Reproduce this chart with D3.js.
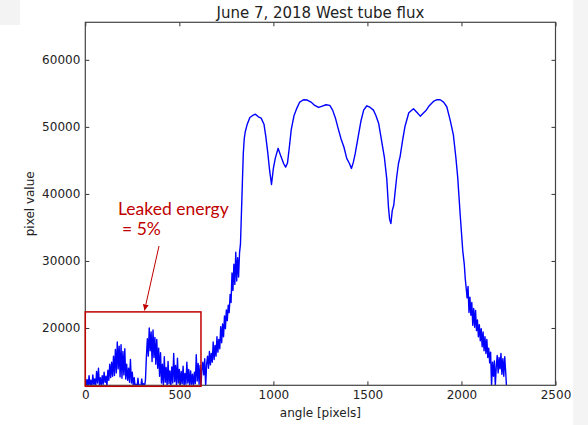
<!DOCTYPE html>
<html>
<head>
<meta charset="utf-8">
<script src="https://cdn.jsdelivr.net/npm/d3@7"></script>
<style>
  body { margin: 0; background: #fff; }
  svg { display: block; }
</style>
</head>
<body>
<script>
// angle [pixels] along the tube
// noisy parts every 5 px, smooth middle part a bit coarser
var angle = [
  0, 5, 10, 15, 20, 25, 30, 35, 40, 45, 50, 55, 60, 65, 70, 75, 80, 85, 90, 95,
  100, 105, 110, 115, 120, 125, 130, 135, 140, 145, 150, 155, 160, 165, 170, 175, 180, 185, 190, 195,
  200, 205, 210, 215, 220, 225, 230, 235, 240, 245, 250, 255, 260, 265, 270, 275, 280, 285, 290, 295,
  300, 305, 310, 315, 320, 325, 330, 335, 340, 345, 350, 355, 360, 365, 370, 375, 380, 385, 390, 395,
  400, 405, 410, 415, 420, 425, 430, 435, 440, 445, 450, 455, 460, 465, 470, 475, 480, 485, 490, 495,
  500, 505, 510, 515, 520, 525, 530, 535, 540, 545, 550, 555, 560, 565, 570, 575, 580, 585, 590, 595,
  600, 605, 610, 615, 620, 625, 630, 635, 640, 645, 650, 655, 660, 665, 670, 675, 680, 685, 690, 695,
  700, 705, 710, 715, 720, 725, 730, 735, 740, 745, 750, 755, 760, 765, 770, 775, 780, 785, 790, 795,
  800, 805, 810, 815, 820, 825, 830, 835, 840, 845, 850,
  860, 875, 890, 905, 920, 935, 950, 960, 970, 980, 990, 1000, 1010, 1025, 1040, 1055, 1065, 1075, 1085, 1095,
  1110, 1125, 1140, 1160, 1180, 1200, 1220, 1240, 1260, 1280, 1300, 1315, 1330, 1345, 1360, 1375, 1390, 1405, 1415, 1425,
  1435, 1450, 1465, 1480, 1497, 1515, 1532, 1545, 1560, 1575, 1590, 1603, 1612, 1618, 1625, 1632, 1640, 1648, 1656, 1665,
  1674, 1687, 1700, 1720, 1745, 1765, 1781, 1795, 1810, 1830, 1851, 1870, 1887, 1905, 1922, 1940, 1957, 1970, 1980, 1993,
  2007, 2015, 2020,
  2025, 2030, 2035, 2040, 2045, 2050, 2055, 2060, 2065, 2070, 2075, 2080, 2085, 2090, 2095, 2100, 2105, 2110, 2115, 2120,
  2125, 2130, 2135, 2140, 2145, 2150, 2155, 2160, 2165, 2170, 2175, 2180, 2185, 2190, 2195, 2200, 2205, 2210, 2215, 2220,
  2225, 2230, 2235, 2240, 2245
];

// pixel value (flux) at each angle
var flux = [
  12600, 11300, 12300, 11200, 12900, 11400, 12200, 11200, 13000, 11600, 12400, 11300, 13500, 11800, 14000, 11500, 12600, 11300, 12900, 11600,
  13400, 11900, 12800, 11400, 13700, 12200, 14600, 12600, 14900, 12800, 15800, 12900, 16800, 13300, 17900, 13900, 17300, 12700, 17500, 12500,
  16500, 13000, 16900, 12400, 14600, 12200, 14000, 11900, 15300, 11800, 13400, 11300, 12600, 11200, 11600, 11100, 12500, 11200, 11500, 11100,
  12400, 11200, 11700, 11200, 12300, 15800, 18400, 15800, 20000, 16600, 19400, 15000, 19700, 15600, 18600, 14600, 18300, 14000, 17000, 12800,
  16300, 11800, 14600, 11400, 15700, 11900, 14100, 11300, 15000, 11700, 13600, 11300, 14200, 11800, 16200, 12000, 14400, 11300, 15500, 11800,
  13800, 11300, 13500, 11700, 14300, 11300, 13200, 11600, 14900, 11800, 13800, 11300, 13600, 11600, 13100, 11300, 13400, 11700, 16000, 12100,
  14700, 11600, 14400, 11500, 13800, 14900, 13000, 15400, 11200, 14600, 15800, 14000, 16500, 14500, 16200, 14900, 17900, 15300, 17400, 15800,
  18700, 16400, 18300, 16900, 20200, 17800, 20600, 18700, 21800, 19900, 22700, 21100, 23400, 22300, 25000, 23800, 28200, 25600, 29500, 26500,
  31300, 27000, 30500, 27600, 31200, 32500, 37000, 41500, 46000, 48200, 49200,
  50300, 51400, 51700, 51900, 51500, 51300, 50400, 48500, 46200, 43500, 41400, 43800, 45300, 46800, 45600, 44500, 44000, 44600, 47000, 49600,
  51700, 52800, 53700, 54050, 54000, 53700, 53200, 52900, 53100, 53300, 53200, 52500, 51300, 49700, 48200, 47000, 45300, 44500, 43800, 44700,
  46000, 48400, 50800, 52500, 53150, 52900, 52500, 51700, 50500, 48000, 45500, 42200, 38000, 36200, 35600, 37500, 38300, 40500, 42600, 44500,
  45600, 48000, 50100, 52100, 52700, 52100, 51600, 52000, 52400, 53200, 53800, 54050, 54050, 53700, 53000, 51000, 48800, 45500, 42500, 37000,
  31500, 29500, 27400,
  26000, 24500, 26200, 22300, 24600, 21900, 23800, 20400, 22900, 20100, 22600, 19600, 21200, 18700, 20500, 18100, 19900, 17200, 19400, 16600,
  18700, 16200, 18300, 15600, 17000, 14800, 16400, 11300, 14900, 12800, 15100, 11400, 14200, 15900, 13300, 15600, 13900, 16200, 13100, 15400,
  12800, 15700, 13500, 11000, 11000
];

var xTicks = [0, 500, 1000, 1500, 2000, 2500];
var yTicks = [20000, 30000, 40000, 50000, 60000];

// the red "leaked energy" box: angle range and top value
var leakBox = [0, 615];
var leakTop = 22400;

var width = 588,
    height = 425,
    margin = {top: 22.3, right: 32.5, bottom: 39.7, left: 85.3};

var w = width - margin.left - margin.right,
    h = height - margin.top - margin.bottom;

var svg = d3.select("body").append("svg")
    .attr("width", width)
    .attr("height", height);

// faint grey screenshot edges
svg.append("rect").attr("x", 0).attr("y", 0).attr("width", 20).attr("height", 25).attr("fill", "#f3f3f3");
svg.append("rect").attr("x", 573).attr("y", 0).attr("width", 15).attr("height", height).attr("fill", "#f4f4f4");

var g = svg.append("g")
    .attr("transform", "translate(" + margin.left + "," + margin.top + ")");

var x = d3.scaleLinear().domain([0, 2500]).range([0, w]);
var y = d3.scaleLinear().domain([11450, 65600]).range([h, 0]);

g.append("defs").append("clipPath").attr("id", "plotclip")
  .append("rect").attr("width", w).attr("height", h);

var data = angle.map(function(a, i) { return {a: a, v: flux[i]}; });

var line = d3.line()
    .x(function(d) { return x(d.a); })
    .y(function(d) { return y(d.v); });

g.append("path")
    .datum(data)
    .attr("clip-path", "url(#plotclip)")
    .attr("fill", "none")
    .attr("stroke", "#0000ff")
    .attr("stroke-width", 1.4)
    .attr("stroke-linejoin", "round")
    .attr("d", line);

// axes, ticks pointing inwards on all four sides
var fontFam = "'DejaVu Sans', sans-serif";
var fmt = d3.format("d");

var xAxis = g.append("g").attr("transform", "translate(0," + h + ")")
    .call(d3.axisBottom(x).tickValues(xTicks).tickFormat(fmt).tickSizeInner(-4).tickSizeOuter(0).tickPadding(5));
var yAxis = g.append("g")
    .call(d3.axisLeft(y).tickValues(yTicks).tickFormat(fmt).tickSizeInner(-4).tickSizeOuter(0).tickPadding(5));
var topAxis = g.append("g")
    .call(d3.axisTop(x).tickValues(xTicks).tickSizeInner(-4).tickSizeOuter(0).tickFormat(""));
var rightAxis = g.append("g").attr("transform", "translate(" + w + ",0)")
    .call(d3.axisRight(y).tickValues(yTicks).tickSizeInner(-4).tickSizeOuter(0).tickFormat(""));

[xAxis, yAxis, topAxis, rightAxis].forEach(function(ax) {
  ax.select(".domain").remove();
  ax.selectAll(".tick line").attr("stroke", "#333");
  ax.selectAll("text")
    .attr("font-family", fontFam)
    .attr("font-size", 12)
    .attr("fill", "#222");
});

g.append("rect")
    .attr("width", w)
    .attr("height", h)
    .attr("fill", "none")
    .attr("stroke", "#444")
    .attr("stroke-width", 1.2);

// labels
svg.append("text")
    .attr("x", margin.left + w / 2)
    .attr("y", 18)
    .attr("text-anchor", "middle")
    .attr("font-family", fontFam)
    .attr("font-size", 15)
    .attr("fill", "#222")
    .text("June 7, 2018 West tube flux");

svg.append("text")
    .attr("x", margin.left + w / 2)
    .attr("y", 417)
    .attr("text-anchor", "middle")
    .attr("font-family", fontFam)
    .attr("font-size", 12)
    .attr("fill", "#222")
    .text("angle [pixels]");

svg.append("text")
    .attr("transform", "translate(34," + (margin.top + h / 2) + ") rotate(-90)")
    .attr("text-anchor", "middle")
    .attr("font-family", fontFam)
    .attr("font-size", 12)
    .attr("fill", "#222")
    .text("pixel value");

// leaked energy annotation
var red = "#c00000";

g.append("rect")
    .attr("x", x(leakBox[0]))
    .attr("y", y(leakTop))
    .attr("width", x(leakBox[1]) - x(leakBox[0]))
    .attr("height", h - y(leakTop) + 1)
    .attr("fill", "none")
    .attr("stroke", red)
    .attr("stroke-width", 1.5);

svg.append("defs").append("marker")
    .attr("id", "arrowhead")
    .attr("viewBox", "0 0 10 10")
    .attr("refX", 10)
    .attr("refY", 5)
    .attr("markerWidth", 6)
    .attr("markerHeight", 6)
    .attr("markerUnits", "userSpaceOnUse")
    .attr("orient", "auto")
  .append("path")
    .attr("d", "M0,0L10,5L0,10Z")
    .attr("fill", red);

svg.append("line")
    .attr("x1", 159)
    .attr("y1", 246)
    .attr("x2", 144.5)
    .attr("y2", 310.5)
    .attr("stroke", red)
    .attr("stroke-width", 1)
    .attr("marker-end", "url(#arrowhead)");

var note = svg.append("text")
    .attr("font-family", "Lato, 'Open Sans', sans-serif")
    .attr("font-size", 17.5)
    .attr("fill", red);
note.append("tspan").attr("x", 118).attr("y", 215).text("Leaked energy");
note.append("tspan").attr("x", 122).attr("y", 235).text("= 5%");
</script>
</body>
</html>
